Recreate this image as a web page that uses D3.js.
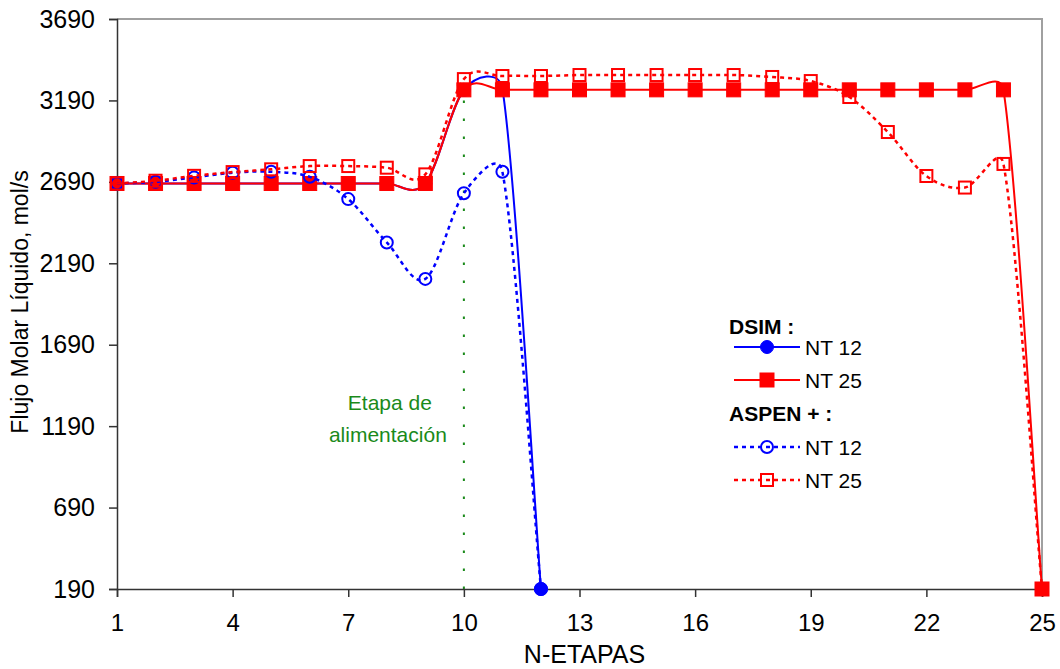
<!DOCTYPE html>
<html>
<head>
<meta charset="utf-8">
<script src="https://cdn.jsdelivr.net/npm/d3@7"></script>
<style>
  body { margin: 0; background: #fff; }
  svg { display: block; font-family: "Liberation Sans", Arial, sans-serif; }
</style>
</head>
<body>
<div id="root"><svg id="chart" width="1060" height="669"></svg></div>
<script>
// stages (N-ETAPAS)
const stagesNt12 = [1, 2, 3, 4, 5, 6, 7, 8, 9, 10, 11, 12];
const stagesNt25 = [1, 2, 3, 4, 5, 6, 7, 8, 9, 10, 11, 12, 13, 14, 15, 16, 17, 18, 19, 20, 21, 22, 23, 24, 25];

// liquid molar flow, mol/s
const dsimNt12 = [2680, 2680, 2680, 2680, 2680, 2680, 2680, 2680, 2680, 3255, 3262, 190];
const dsimNt25 = [2680, 2680, 2680, 2680, 2680, 2680, 2680, 2680, 2680, 3255, 3255, 3255, 3255,
  3255, 3255, 3255, 3255, 3255, 3255, 3255, 3255, 3255, 3255, 3255, 190];
const aspenNt12 = [2680, 2690, 2717, 2746, 2752, 2721, 2584, 2318, 2094, 2620, 2752, 190];
const aspenNt25 = [2680, 2697, 2727, 2750, 2767, 2787, 2787, 2777, 2736, 3321, 3340, 3340, 3346,
  3346, 3346, 3346, 3346, 3334, 3309, 3211, 2996, 2726, 2655, 2800, 190];

const xTicks = [1, 4, 7, 10, 13, 16, 19, 22, 25];
const yTicks = [190, 690, 1190, 1690, 2190, 2690, 3190, 3690];
const feedStage = 10;

// smoothed line in the spreadsheet style: bezier segments whose control
// points follow the neighbour chord, capped at half the segment length
function smoothPath(pts) {
  const n = pts.length;
  const P = i => pts[Math.max(0, Math.min(n - 1, i))];
  const ctrl = (i, seg, sign) => {
    const a = P(i - 1), b = P(i + 1);
    const tx = b[0] - a[0], ty = b[1] - a[1];
    const len = Math.hypot(tx, ty);
    if (len === 0) return pts[i];
    const off = Math.min(len / 6, seg / 2);
    return [pts[i][0] + sign * tx / len * off, pts[i][1] + sign * ty / len * off];
  };
  const p = d3.path();
  p.moveTo(pts[0][0], pts[0][1]);
  for (let i = 0; i < n - 1; i += 1) {
    const seg = Math.hypot(pts[i + 1][0] - pts[i][0], pts[i + 1][1] - pts[i][1]);
    const c1 = ctrl(i, seg, 1);
    const c2 = ctrl(i + 1, seg, -1);
    p.bezierCurveTo(c1[0], c1[1], c2[0], c2[1], pts[i + 1][0], pts[i + 1][1]);
  }
  return p.toString();
}

function drawChart() {
  const left = 117, right = 1042, top = 19, bottom = 589;
  const svg = d3.select('#chart');

  const x = d3.scaleLinear().domain([1, 25]).range([left, right]);
  const y = d3.scaleLinear().domain([190, 3690]).range([bottom, top]);

  // plot frame (top / right in grey)
  svg.append('path')
    .attr('d', `M${left},${top}H${right}V${bottom}`)
    .attr('fill', 'none')
    .attr('stroke', '#a0a0a0')
    .attr('stroke-width', 2);

  // feed stage marker
  svg.append('line')
    .attr('x1', x(feedStage)).attr('x2', x(feedStage))
    .attr('y1', y(3190)).attr('y2', bottom + 8)
    .attr('stroke', '#1a8a1a')
    .attr('stroke-width', 2)
    .attr('stroke-dasharray', '2.5,15.5');

  const gx = svg.append('g')
    .attr('transform', `translate(0,${bottom})`)
    .call(d3.axisBottom(x).tickValues(xTicks).tickFormat(d3.format('d')).tickSize(8).tickPadding(17));
  const gy = svg.append('g')
    .attr('transform', `translate(${left},0)`)
    .call(d3.axisLeft(y).tickValues(yTicks).tickFormat(d3.format('d')).tickSize(8).tickPadding(14));

  [gx, gy].forEach(g => {
    g.select('.domain').attr('stroke', '#333').attr('stroke-width', 1.5);
    g.selectAll('.tick line').attr('stroke', '#333').attr('stroke-width', 1.5);
    g.selectAll('.tick text')
      .attr('fill', '#000')
      .style('font-family', '"Liberation Sans", Arial, sans-serif');
  });
  gx.selectAll('.tick text').style('font-size', '24px');
  gy.selectAll('.tick text').style('font-size', '25px');

  svg.append('text')
    .attr('x', (left + right) / 2 + 5).attr('y', 663)
    .attr('text-anchor', 'middle')
    .style('font-size', '25px')
    .text('N-ETAPAS');

  svg.append('text')
    .attr('transform', 'translate(28,302) rotate(-90)')
    .attr('text-anchor', 'middle')
    .style('font-size', '23px')
    .text('Flujo Molar Líquido, mol/s');

  svg.append('text')
    .attr('x', x(feedStage) - 74).attr('y', 410)
    .attr('text-anchor', 'middle')
    .attr('fill', '#1a8a1a')
    .style('font-size', '21px')
    .text('Etapa de');
  svg.append('text')
    .attr('x', x(feedStage) - 76).attr('y', 442)
    .attr('text-anchor', 'middle')
    .attr('fill', '#1a8a1a')
    .style('font-size', '21px')
    .text('alimentación');

  const series = [
    { stages: stagesNt12, values: dsimNt12, color: '#0000ff', dash: null, marker: 'circle', filled: true },
    { stages: stagesNt25, values: dsimNt25, color: '#ff0000', dash: null, marker: 'square', filled: true },
    { stages: stagesNt12, values: aspenNt12, color: '#0000ff', dash: '4,4', marker: 'circle', filled: false },
    { stages: stagesNt25, values: aspenNt25, color: '#ff0000', dash: '4,4', marker: 'square', filled: false },
  ];

  function drawMarker(g, kind, filled, color, cx, cy) {
    if (kind === 'circle') {
      g.append('circle')
        .attr('cx', cx).attr('cy', cy)
        .attr('r', filled ? 6.5 : 6)
        .attr('fill', filled ? color : 'none')
        .attr('stroke', color)
        .attr('stroke-width', filled ? 1 : 2);
    } else {
      const s = filled ? 14 : 12;
      g.append('rect')
        .attr('x', cx - s / 2).attr('y', cy - s / 2)
        .attr('width', s).attr('height', s)
        .attr('fill', filled ? color : 'none')
        .attr('stroke', color)
        .attr('stroke-width', filled ? 1 : 2);
    }
  }

  series.forEach(s => {
    const pts = s.stages.map((st, i) => [x(st), y(s.values[i])]);
    const g = svg.append('g');
    g.append('path')
      .attr('d', smoothPath(pts))
      .attr('fill', 'none')
      .attr('stroke', s.color)
      .attr('stroke-width', s.dash ? 2.5 : 2)
      .attr('stroke-dasharray', s.dash);
    pts.forEach(p => drawMarker(g, s.marker, s.filled, s.color, p[0], p[1]));
  });

  // legend
  const lg = svg.append('g').style('font-size', '21px');
  const legendRows = [
    { title: 'DSIM :', ty: 334 },
    { item: 'NT 12', y: 347, s: series[0] },
    { item: 'NT 25', y: 380, s: series[1] },
    { title: 'ASPEN + :', ty: 421 },
    { item: 'NT 12', y: 447, s: series[2] },
    { item: 'NT 25', y: 480, s: series[3] },
  ];
  legendRows.forEach(r => {
    if (r.title) {
      lg.append('text')
        .attr('x', 729).attr('y', r.ty)
        .style('font-weight', 'bold')
        .text(r.title);
      return;
    }
    lg.append('line')
      .attr('x1', 734).attr('x2', 800)
      .attr('y1', r.y).attr('y2', r.y)
      .attr('stroke', r.s.color)
      .attr('stroke-width', r.s.dash ? 2.5 : 2)
      .attr('stroke-dasharray', r.s.dash);
    drawMarker(lg, r.s.marker, r.s.filled, r.s.color, 767, r.y);
    lg.append('text')
      .attr('x', 805).attr('y', r.y + 7.5)
      .text(r.item);
  });
}

window.addEventListener('load', function() {
  drawChart();
});
</script>
</body>
</html>
